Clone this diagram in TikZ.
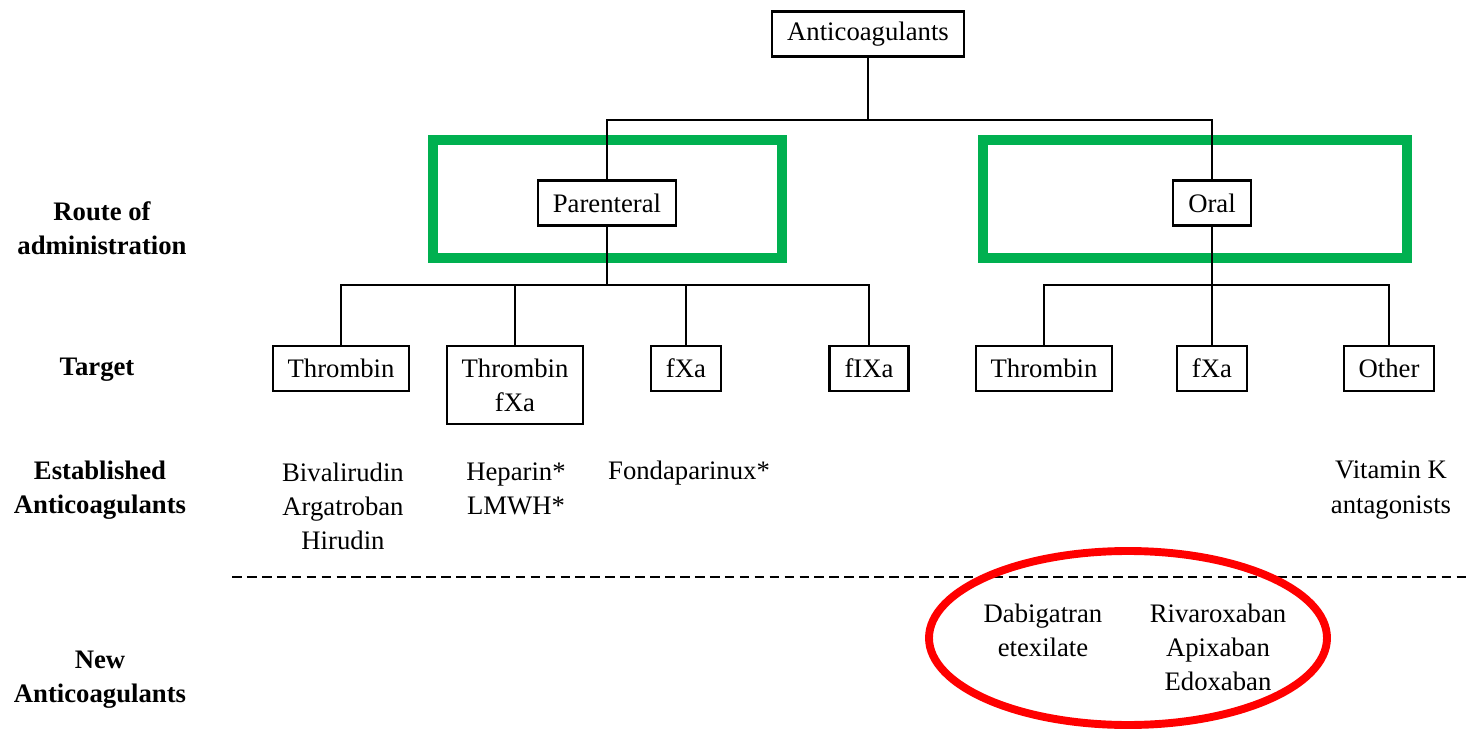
\documentclass[tikz,border=0pt]{standalone}
\usepackage{fontspec}
\setmainfont{Liberation Serif}
\definecolor{grn}{RGB}{0,176,80}
\definecolor{rd}{RGB}{255,0,0}

\begin{document}
\begin{tikzpicture}[x=0.02cm,y=-0.02cm,
    tbox/.style={draw,line width=1.3pt,inner xsep=8.5pt,inner ysep=5pt,
      minimum height=25.6pt,align=center,font=\fontsize{15.2}{19.4}\selectfont},
    lbl/.style={align=center,font=\fontsize{15.2}{19.4}\selectfont\bfseries},
    drug/.style={align=center,font=\fontsize{15.2}{19.4}\selectfont},
    wire/.style={line width=1.1pt}]
  \useasboundingbox (0,0) rectangle (1468,733);
  % highlight frames
  \draw[grn,line width=5.7pt] (433,140) rectangle (782,258);
  \draw[grn,line width=5.7pt] (983,140) rectangle (1407,258);
  % tree
  \node[tbox] (anti) at (868,34) {Anticoagulants};
  \node[tbox] (par) at (607,203) {Parenteral};
  \node[tbox] (oral) at (1212,203) {Oral};
  \foreach \n/\x/\h/\t in {pthr/341/25.6/Thrombin, pboth/515/44.4/{Thrombin\\fXa},
      pxa/686/25.6/fXa, pixa/869/25.6/fIXa, othr/1044/25.6/Thrombin,
      oxa/1212/25.6/fXa, oot/1389/25.6/Other}{%
    \node[tbox,anchor=north,minimum height=\h pt] (\n) at (\x,345) {\t};
  }
  \coordinate (j0) at (868,120);
  \coordinate (j1) at (607,285);
  \coordinate (j2) at (1212,285);
  \draw[wire] (anti) -- (j0);
  \draw[wire] (par) |- (j0) -| (oral);
  \draw[wire] (par) -- (j1);
  \foreach \n in {pthr,pboth,pxa,pixa}
    \draw[wire] (j1) -| (\n);
  \draw[wire] (oral) -- (j2);
  \foreach \n in {othr,oxa,oot}
    \draw[wire] (j2) -| (\n);
  % row labels
  \node[lbl] (route) at (102,228) {Route of\\administration};
  \node[lbl] (tgt) at (97,370) {Target};
  \node[lbl] (est) at (100,490) {Established\\Anticoagulants};
  \node[lbl] (new) at (100,680) {New\\Anticoagulants};
  % drugs
  \node[drug] (bival) at (343,506) {Bivalirudin\\Argatroban\\Hirudin};
  \node[drug] (hep) at (516,489) {Heparin*\\LMWH*};
  \node[drug] (fond) at (689,473) {Fondaparinux*};
  \node[drug] (vka) at (1391,490) {Vitamin K\\antagonists};
  \draw[wire,dash pattern=on 5.5pt off 3pt] (232,577) -- (1466,577);
  \node[drug] (dabi) at (1043,630) {Dabigatran\\etexilate};
  \node[drug] (xabans) at (1218,647) {Rivaroxaban\\Apixaban\\Edoxaban};
  \draw[rd,line width=4.5pt] (1128,638) ellipse [x radius=199,y radius=87];
\end{tikzpicture}
\end{document}
